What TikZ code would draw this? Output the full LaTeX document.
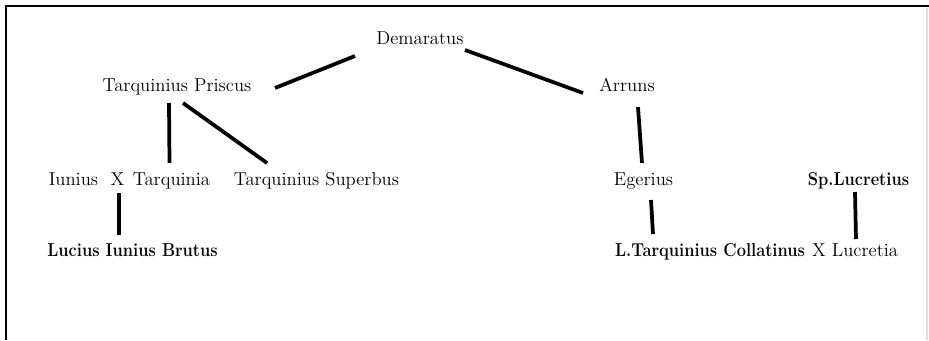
\documentclass[tikz,border=0pt]{standalone}
\usepackage{graphicx}
\usepackage{tikz}

\newcommand\heir[1]{\scalebox{0.88}[1]{\bfseries #1}}

\tikzset{
  person/.style={anchor=base, inner sep=0pt, font=\fontsize{14}{16}\selectfont},
  link/.style={line width=2.8pt}
}

\begin{document}
\begin{tikzpicture}[x=0.75pt, y=-0.75pt]
\useasboundingbox (0,0) rectangle (929,340);
\draw[line width=2.2pt] (6,340) -- (6,6) -- (929,6);
\draw[line width=1.5pt, black!12] (927,8) -- (927,340);

\node[person] (demaratus) at (420,44) {Demaratus};
\node[person] (priscus) at (177,91) {Tarquinius Priscus};
\node[person] (arruns) at (627,91) {Arruns};

\node[person] (iunius) at (73.5,185) {Iunius};
\node[person] (xa) at (117.5,185) {X};
\node[person] (tarquinia) at (171.5,185) {Tarquinia};
\node[person] (superbus) at (316.5,185) {Tarquinius Superbus};
\node[person] (egerius) at (643.5,185) {Egerius};
\node[person] (spurius) at (858.5,185) {\heir{Sp.Lucretius}};

\node[person] (brutus) at (132.5,256) {\heir{Lucius Iunius Brutus}};
\node[person] (collatinus) at (710,256) {\heir{L.Tarquinius Collatinus}};
\node[person] (xb) at (819,256) {X};
\node[person] (lucretia) at (865,256) {Lucretia};

\draw[link] ([shift={(-65,12)}]demaratus.base) -- ([shift={(98,-3)}]priscus.base);
\draw[link] ([shift={(45,6)}]demaratus.base) -- ([shift={(-44,2)}]arruns.base);
\draw[link] ([shift={(-8,12)}]priscus.base) -- ([shift={(-2,-22)}]tarquinia.base);
\draw[link] ([shift={(6,12)}]priscus.base) -- ([shift={(-49.5,-22)}]superbus.base);
\draw[link] ([shift={(1.5,8)}]xa.base) -- ([shift={(-13.5,-21)}]brutus.base);
\draw[link] ([shift={(11,16)}]arruns.base) -- ([shift={(-1.5,-22)}]egerius.base);
\draw[link] ([shift={(7.5,15)}]egerius.base) -- ([shift={(-57,-22)}]collatinus.base);
\draw[link] ([shift={(-3.5,7)}]spurius.base) -- ([shift={(-9,-17)}]lucretia.base);
\end{tikzpicture}
\end{document}
